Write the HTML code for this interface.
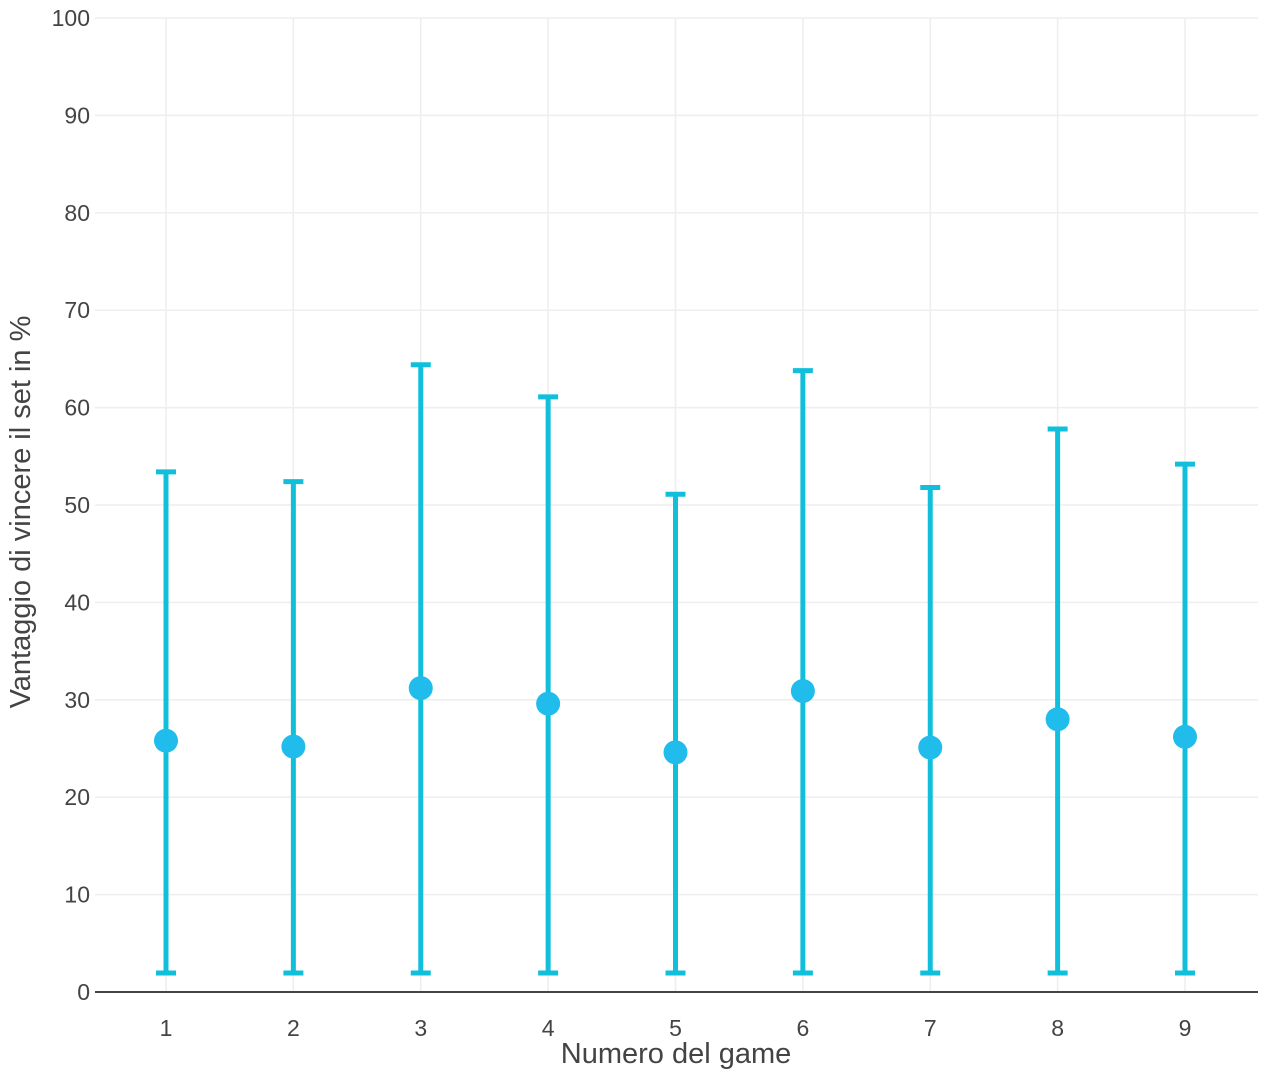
<!DOCTYPE html>
<html><head><meta charset="utf-8"><style>
html,body{margin:0;padding:0;background:#fff;}
svg text{font-family:"Liberation Sans",sans-serif;fill:#444;}
</style></head><body>
<svg id="chart" width="1268" height="1074" xmlns="http://www.w3.org/2000/svg">
<g id="grid"></g>
<g id="axes"></g>
<g id="series"></g>
<text x="676" y="1063" text-anchor="middle" font-size="29">Numero del game</text>
<text transform="translate(30,512) rotate(-90)" text-anchor="middle" font-size="29">Vantaggio di vincere il set in %</text>
</svg>
<script>
const categories = [1,2,3,4,5,6,7,8,9];
const values = [25.8,25.2,31.2,29.6,24.6,30.9,25.1,28.0,26.2];
const upper = [53.4,52.4,64.4,61.1,51.1,63.8,51.8,57.8,54.2];
const lower = [1.95,1.95,1.95,1.95,1.95,1.95,1.95,1.95,1.95];
const yTicks = [0,10,20,30,40,50,60,70,80,90,100];

const NS = "http://www.w3.org/2000/svg";
const left = 95, right = 1258, y0 = 992, y100 = 18;
const xScale = v => 166 + (v - 1) * (1185 - 166) / 8;
const yScale = v => y0 - v * (y0 - y100) / 100;
function mk(tag, attrs, parent){const e=document.createElementNS(NS,tag);for(const k in attrs)e.setAttribute(k,attrs[k]);parent.appendChild(e);return e;}
const grid=document.getElementById('grid'), axes=document.getElementById('axes'), series=document.getElementById('series');

yTicks.forEach(t=>{
  if(t>0){
    const l=mk('line',{x1:left,x2:right,y1:yScale(t),y2:yScale(t),stroke:'#eee','stroke-width':1.5},grid);
    
    
  }
  const tx=mk('text',{x:90,y:yScale(t)+8,'text-anchor':'end','font-size':23},axes);
  tx.textContent=t;
  
  
});
categories.forEach(c=>{
  const l=mk('line',{x1:xScale(c),x2:xScale(c),y1:y100,y2:y0,stroke:'#eee','stroke-width':1.5},grid);
  
  
  const tx=mk('text',{x:xScale(c),y:1036,'text-anchor':'middle','font-size':23},axes);
  tx.textContent=c;
  
  
});
const ax=mk('line',{x1:left,x2:right,y1:y0,y2:y0,stroke:'#444','stroke-width':2},axes);



const ec='#12bfdb';
categories.forEach((c,i)=>{
  const x=xScale(c), yu=yScale(upper[i]), yl=yScale(lower[i]);
  const g=mk('g',{},series);
  
  
  mk('line',{x1:x,x2:x,y1:yu,y2:yl,stroke:ec,'stroke-width':5},g);
  mk('line',{x1:x-10,x2:x+10,y1:yu,y2:yu,stroke:ec,'stroke-width':5},g);
  mk('line',{x1:x-10,x2:x+10,y1:yl,y2:yl,stroke:ec,'stroke-width':5},g);
  const p=mk('circle',{cx:x,cy:yScale(values[i]),r:12,fill:'#1fbcec'},series);
  
  
});
</script>
</body></html>
